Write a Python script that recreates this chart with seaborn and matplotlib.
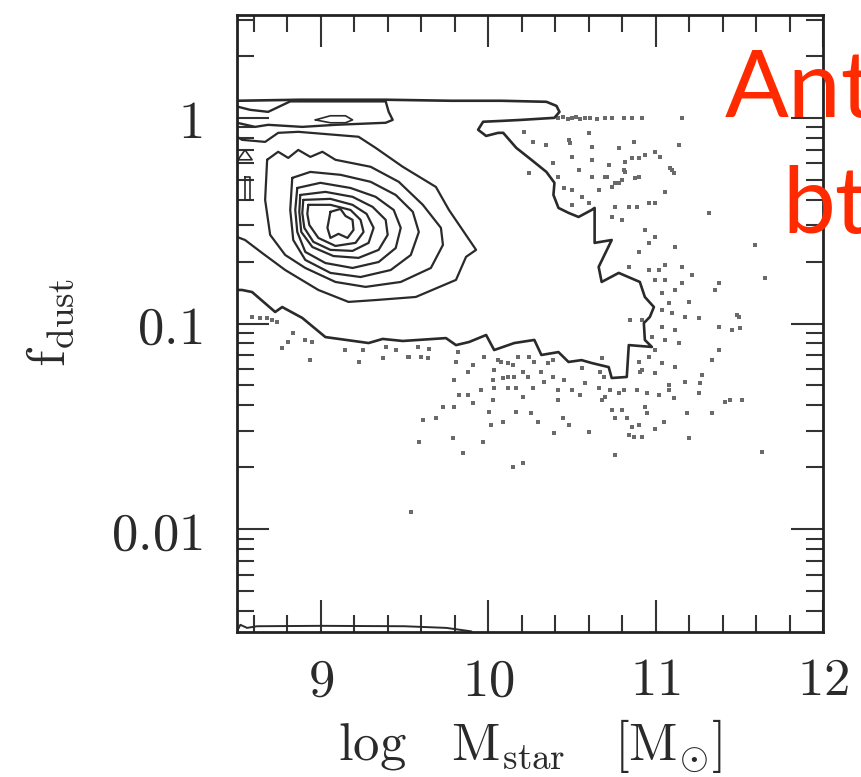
import numpy as np
import matplotlib
matplotlib.use("Agg")
import matplotlib.pyplot as plt
import seaborn as sns
from matplotlib.ticker import MultipleLocator, LogLocator, NullFormatter

sns.set_style("ticks")
plt.rcParams["font.family"] = ["DejaVu Sans"]
plt.rcParams["mathtext.fontset"] = "cm"

# ---------------- data (x = log M_star, y = log10 f_dust) ----------------
x_ticks = [9, 10, 11, 12]
x_tick_labels = ["9", "10", "11", "12"]
y_ticks = [0.01, 0.1, 1]
y_tick_labels = ["0.01", "0.1", "1"]

# outermost (jagged) contour, open at the left axis
outer_x = [8.50, 8.878, 9.388, 9.778, 10.078, 10.348, 10.408, 10.426, 10.396, 10.198,
           10.078, 9.97, 9.94, 9.988, 10.06, 10.09, 10.168, 10.258, 10.348, 10.396,
           10.39, 10.42, 10.48, 10.54, 10.618, 10.636, 10.636, 10.738, 10.66, 10.678,
           10.78, 10.906, 10.936, 10.99, 10.966, 10.93, 10.936, 10.978, 10.84, 10.828,
           10.738, 10.72, 10.618, 10.558, 10.48, 10.42, 10.318, 10.276, 10.156, 10.036,
           9.988, 9.886, 9.808, 9.748, 9.49, 9.37, 9.286, 9.028, 8.89, 8.77,
           8.728, 8.59, 8.53, 8.50]
outer_logf = [0.083, 0.088, 0.088, 0.083, 0.083, 0.078, 0.058, 0.029, 0.0, -0.010,
              -0.015, -0.019, -0.058, -0.088, -0.073, -0.073, -0.146, -0.204, -0.263, -0.316,
              -0.375, -0.438, -0.462, -0.482, -0.448, -0.438, -0.608, -0.594, -0.725, -0.798,
              -0.754, -0.798, -0.871, -0.920, -0.968, -0.998, -1.080, -1.114, -1.105, -1.260,
              -1.265, -1.212, -1.192, -1.178, -1.187, -1.139, -1.153, -1.080, -1.095, -1.129,
              -1.056, -1.090, -1.105, -1.071, -1.085, -1.075, -1.095, -1.066, -0.973, -0.920,
              -0.944, -0.847, -0.837, -0.837]

# pile-up contour at f_dust ~ 1 (open at the left axis)
cap_x = [8.50, 8.578, 8.686, 8.818, 9.388, 9.406, 9.43, 9.388, 9.088, 8.89, 8.686, 8.608, 8.50]
cap_logf = [0.055, 0.039, 0.029, 0.080, 0.080, 0.029, -0.010, -0.024, -0.034, -0.044, -0.034, -0.044, -0.024]
cap_island_x = [8.968, 9.058, 9.148, 9.19, 9.148, 9.058]
cap_island_logf = [-0.010, 0.010, 0.010, -0.010, -0.024, -0.024]

# main blob contours (C open at left axis, D..J closed)
c_x = [8.50, 8.53, 8.668, 8.746, 8.866, 9.226, 9.328, 9.49, 9.688, 9.766, 9.928, 9.868,
       9.808, 9.568, 9.328, 9.166, 8.986, 8.788, 8.65, 8.548, 8.50]
c_logf = [-0.092, -0.107, -0.117, -0.073, -0.068, -0.092, -0.146, -0.238, -0.336, -0.448, -0.642, -0.676,
          -0.788, -0.871, -0.886, -0.895, -0.837, -0.740, -0.657, -0.594, -0.579]
d_x = [8.68, 8.746, 8.806, 8.866, 8.938, 9.01, 9.088, 9.298, 9.466, 9.61, 9.718, 9.73,
       9.658, 9.478, 9.268, 9.088, 8.908, 8.788, 8.698, 8.668]
d_logf = [-0.204, -0.165, -0.195, -0.156, -0.190, -0.165, -0.204, -0.238, -0.311, -0.423, -0.535, -0.618,
          -0.730, -0.798, -0.822, -0.798, -0.730, -0.667, -0.569, -0.399]
e_x = [8.83, 8.938, 9.118, 9.298, 9.448, 9.55, 9.586, 9.538, 9.418, 9.238, 9.058, 8.908, 8.836, 8.818]
e_logf = [-0.292, -0.263, -0.277, -0.311, -0.375, -0.457, -0.555, -0.667, -0.740, -0.774, -0.754, -0.691, -0.594, -0.448]
f_x = [8.86, 8.998, 9.178, 9.328, 9.436, 9.478, 9.448, 9.346, 9.19, 9.028, 8.908, 8.86, 8.848]
f_logf = [-0.341, -0.316, -0.341, -0.384, -0.448, -0.535, -0.633, -0.701, -0.730, -0.706, -0.652, -0.555, -0.448]
g_x = [8.878, 9.028, 9.19, 9.31, 9.388, 9.40, 9.346, 9.226, 9.076, 8.95, 8.884, 8.872]
g_logf = [-0.375, -0.360, -0.384, -0.433, -0.496, -0.569, -0.642, -0.681, -0.672, -0.628, -0.555, -0.457]
h_x = [8.896, 9.058, 9.19, 9.274, 9.316, 9.286, 9.19, 9.058, 8.956, 8.902, 8.89]
h_logf = [-0.399, -0.394, -0.423, -0.467, -0.535, -0.608, -0.647, -0.642, -0.603, -0.535, -0.462]
i_x = [8.926, 9.058, 9.178, 9.238, 9.256, 9.208, 9.088, 8.986, 8.932, 8.92]
i_logf = [-0.423, -0.423, -0.448, -0.496, -0.555, -0.608, -0.623, -0.584, -0.521, -0.467]
j_x = [9.058, 9.118, 9.148, 9.19, 9.196, 9.16, 9.106, 9.058, 9.04]
j_logf = [-0.457, -0.443, -0.477, -0.496, -0.545, -0.584, -0.564, -0.584, -0.535]

# small islands at the left axis
tri_x = [8.506, 8.548, 8.59]
tri_logf = [-0.204, -0.156, -0.204]
rect_x = [8.548, 8.578, 8.578, 8.548]
rect_logf = [-0.287, -0.287, -0.399, -0.399]

# contour hugging the lower limit
floor_x = [8.50, 8.52, 8.56, 8.62, 9.0, 9.5, 9.75, 9.9]
floor_logf = [-2.497, -2.465, -2.48, -2.472, -2.47, -2.472, -2.48, -2.497]

# individual galaxies outside the outermost contour
scatter_x = [
    10.42, 10.45, 10.474, 10.498, 10.522, 10.546, 10.576, 10.606, 10.648, 10.696,
    10.738, 10.81, 10.858, 10.918, 11.158, 10.216, 10.27, 10.348, 10.48, 10.486,
    10.60, 10.618, 10.78, 10.87, 11.14, 10.39, 10.498, 10.618, 10.72, 10.816,
    10.90, 10.996, 11.026, 11.098, 11.11, 10.42, 10.54, 10.618, 10.708, 10.816,
    10.876, 10.498, 10.558, 10.66, 10.738, 10.78, 11.056, 10.498, 10.60, 10.756,
    10.84, 10.888, 10.96, 10.996, 11.32, 10.738, 10.798, 10.936, 10.996, 11.116,
    10.90, 10.96, 11.596, 10.84, 10.96, 11.02, 11.056, 11.158, 10.996, 11.056,
    11.158, 11.218, 11.656, 11.38, 11.356, 11.038, 11.116, 11.08, 11.20, 11.038,
    11.098, 11.176, 11.26, 11.50, 11.038, 11.116, 11.38, 11.458, 11.506, 10.978,
    11.056, 11.14, 10.996, 11.38, 10.96, 11.038, 11.116, 11.338, 10.918, 10.996,
    11.278, 10.846, 10.918, 11.488, 10.90, 10.906, 11.266, 11.176, 11.08, 11.08,
    11.11, 11.02, 10.948, 10.888, 11.26, 11.416, 11.446, 11.518, 11.338, 11.188,
    11.05, 10.996, 10.948, 10.936, 10.858, 10.90, 10.84, 10.918, 10.87, 11.20,
    11.638, 10.756, 10.798, 10.756, 10.828, 10.738, 10.678, 10.696, 10.66, 10.726,
    10.78, 10.81, 10.60, 10.546, 10.576, 10.498, 10.456, 10.42, 10.39, 10.42,
    10.336, 10.318, 10.36, 10.276, 10.246, 10.18, 10.078, 10.15, 10.21, 10.24,
    10.156, 10.09, 10.036, 10.03, 10.036, 10.12, 10.168, 10.21, 10.27, 10.03,
    9.958, 9.91, 9.88, 9.826, 9.796, 9.88, 9.808, 9.73, 9.796, 10.006,
    10.09, 10.168, 10.258, 10.30, 10.018, 10.45, 10.48, 10.396, 9.61, 9.688,
    9.586, 9.79, 9.85, 9.97, 10.15, 10.21, 9.538, 9.646, 9.58, 9.52,
    9.598, 9.64, 9.82, 9.91, 9.976, 10.06, 10.39, 10.558, 10.678, 10.666,
    10.69, 8.59, 8.638, 8.68, 8.71, 8.74, 8.836, 8.908, 8.95, 8.806,
    8.77, 8.938, 9.148, 9.25, 9.226, 9.388, 9.448, 9.37, 9.526, 10.12,
    10.12, 10.936, 10.858, 11.086, 10.81, 10.696, 10.798, 10.90, 10.756, 10.246,
    10.456]
scatter_logf = [
    0.0, 0.005, -0.005, 0.0, 0.005, -0.005, 0.0, 0.0, -0.005, 0.0,
    0.0, 0.0, 0.0, 0.0, 0.0, -0.068, -0.117, -0.131, -0.107, -0.122,
    -0.073, -0.141, -0.146, -0.117, -0.131, -0.219, -0.190, -0.204, -0.229, -0.214,
    -0.195, -0.165, -0.190, -0.253, -0.268, -0.287, -0.253, -0.287, -0.287, -0.263,
    -0.292, -0.350, -0.384, -0.350, -0.336, -0.316, -0.360, -0.423, -0.414, -0.433,
    -0.433, -0.433, -0.414, -0.414, -0.462, -0.482, -0.496, -0.545, -0.579, -0.628,
    -0.652, -0.608, -0.618, -0.725, -0.740, -0.740, -0.715, -0.725, -0.788, -0.788,
    -0.803, -0.764, -0.779, -0.803, -0.837, -0.852, -0.837, -0.900, -0.895, -0.934,
    -0.949, -0.968, -0.973, -0.968, -1.017, -1.032, -1.017, -1.032, -1.022, -1.066,
    -1.080, -1.095, -1.129, -1.129, -1.163, -1.192, -1.212, -1.178, -1.226, -1.241,
    -1.251, -0.983, -0.983, -0.959, -1.187, -1.236, -1.290, -1.285, -1.300, -1.324,
    -1.362, -1.348, -1.338, -1.324, -1.338, -1.382, -1.372, -1.372, -1.435, -1.435,
    -1.479, -1.513, -1.435, -1.406, -1.504, -1.494, -1.543, -1.552, -1.552, -1.557,
    -1.625, -1.640, -1.421, -1.460, -1.460, -1.421, -1.372, -1.358, -1.314, -1.324,
    -1.338, -1.324, -1.528, -1.348, -1.290, -1.324, -1.275, -1.324, -1.260, -1.372,
    -1.285, -1.236, -1.192, -1.187, -1.163, -1.163, -1.187, -1.202, -1.236, -1.260,
    -1.260, -1.265, -1.226, -1.275, -1.314, -1.314, -1.314, -1.358, -1.314, -1.372,
    -1.324, -1.387, -1.348, -1.348, -1.275, -1.236, -1.187, -1.406, -1.406, -1.431,
    -1.479, -1.431, -1.435, -1.479, -1.494, -1.460, -1.494, -1.533, -1.470, -1.460,
    -1.577, -1.557, -1.630, -1.577, -1.698, -1.679, -1.917, -1.124, -1.114, -1.163,
    -1.163, -1.168, -1.139, -1.202, -1.163, -1.178, -1.178, -1.217, -1.168, -1.236,
    -1.260, -0.968, -0.973, -0.973, -0.983, -0.993, -1.046, -1.080, -1.090, -1.090,
    -1.119, -1.178, -1.129, -1.129, -1.187, -1.114, -1.129, -1.168, -1.163, -1.192,
    -1.260, -0.180, -0.195, -0.243, -0.253, -0.287, -0.302, -0.287, -0.316, -0.268,
    -0.341]

# ---------------- figure ----------------
W, H = 861, 777
fig = plt.figure(figsize=(W / 100, H / 100), dpi=100)
ax = fig.add_axes([237 / W, (H - 632) / H, (823 - 237) / W, (632 - 15) / H])
ax.set_yscale("log")

LINE = "#2a2a2a"


def draw(xs, ls, closed=False, lw=1.6):
    xs = list(xs)
    ls = list(ls)
    if closed:
        xs.append(xs[0])
        ls.append(ls[0])
    sns.lineplot(x=xs, y=10.0 ** np.array(ls), sort=False, estimator=None,
                 color=LINE, lw=lw, ax=ax)


sns.scatterplot(x=scatter_x, y=10.0 ** np.array(scatter_logf), marker="s", s=6,
                color="#6a6a6a", linewidth=0, ax=ax)

draw(outer_x, outer_logf, lw=1.9)
draw(cap_x, cap_logf, lw=1.7)
draw(cap_island_x, cap_island_logf, closed=True, lw=1.2)
draw(c_x, c_logf)
for xs, ls in [(d_x, d_logf), (e_x, e_logf), (f_x, f_logf), (g_x, g_logf),
               (h_x, h_logf), (i_x, i_logf), (j_x, j_logf)]:
    draw(xs, ls, closed=True)
draw(tri_x, tri_logf, closed=True, lw=1.2)
draw(rect_x, rect_logf, closed=True, lw=1.2)
draw(floor_x, floor_logf, lw=1.4)

ax.set_xlim(8.5, 12)
ax.set_ylim(10 ** -2.5, 10 ** 0.5)
ax.set_xticks(x_ticks)
ax.set_xticklabels([f"${t}$" for t in x_tick_labels])
ax.xaxis.set_minor_locator(MultipleLocator(0.2))
ax.set_yticks(y_ticks)
ax.set_yticklabels([f"${t}$" for t in y_tick_labels])
ax.yaxis.set_minor_locator(LogLocator(base=10, subs=np.arange(2, 10) * 1.0, numticks=30))
ax.yaxis.set_minor_formatter(NullFormatter())

ax.tick_params(which="both", direction="in", top=True, right=True,
               width=1.5, color="#333333", labelsize=38, labelcolor="#2a2a2a")
ax.tick_params(which="major", length=23)
ax.tick_params(axis="x", which="major", pad=16)
ax.tick_params(axis="y", which="major", pad=25)
ax.tick_params(which="minor", length=12)
for sp in ax.spines.values():
    sp.set_linewidth(2.0)
    sp.set_color("#222222")
ax.set_xlabel("")
ax.set_ylabel("")

fig.text(530 / W, (H - 760) / H, r"$\mathrm{log\ \ \ M_{star}\ \ \ [M_{\odot}]}$",
         ha="center", va="baseline", fontsize=38, color="#2a2a2a")
fig.text(50 / W, (H - 323) / H, r"$\mathrm{f_{dust}}$", rotation=90,
         ha="center", va="center", fontsize=38, color="#2a2a2a")

fig.text(725 / W, (H - 117) / H, "Anti-correlation", ha="left", va="baseline",
         fontsize=68, color="#ff2a00", family=["Lato", "DejaVu Sans"])
fig.text(782 / W, (H - 233) / H, "btw", ha="left", va="baseline",
         fontsize=68, color="#ff2a00", family=["Lato", "DejaVu Sans"])

fig.savefig("out.png", dpi=100)
